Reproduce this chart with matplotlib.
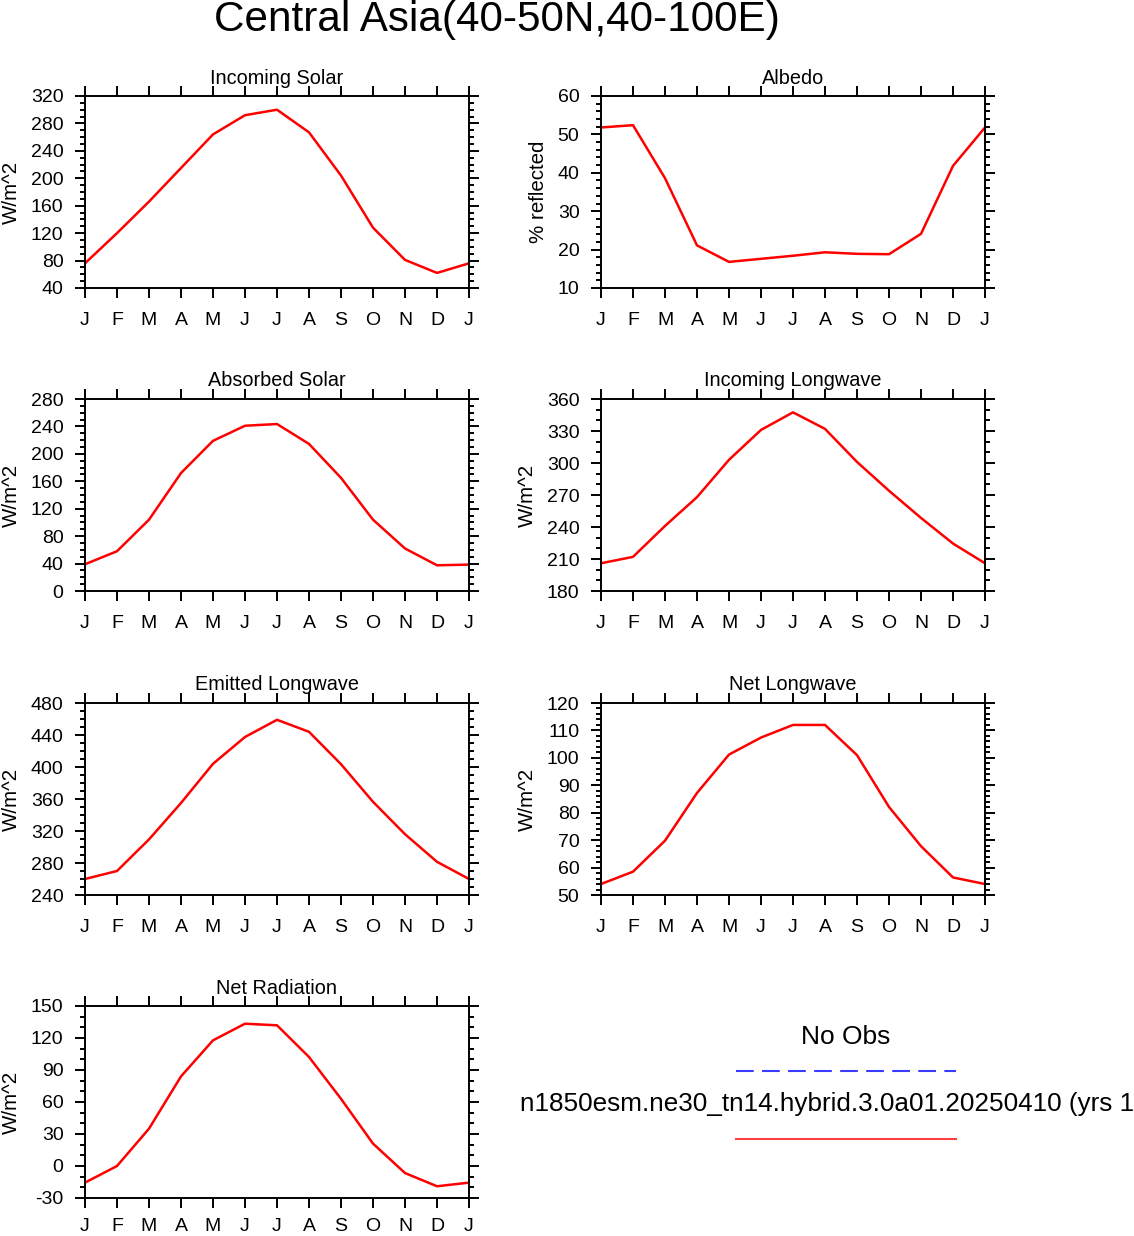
import matplotlib
matplotlib.use("Agg")
import matplotlib.pyplot as plt
from matplotlib.lines import Line2D
from matplotlib.ticker import MultipleLocator

plt.rcParams['font.family'] = ['Liberation Sans', 'DejaVu Sans']
plt.rcParams['axes.unicode_minus'] = False

# Data (monthly climatology, Jan..Dec plus Jan again)
month_labels = ["J", "F", "M", "A", "M", "J", "J", "A", "S", "O", "N", "D", "J"]
months = list(range(13))

incoming_solar = [76, 120, 166, 215, 264, 292, 300, 267, 204, 128, 81, 62, 76]
albedo = [51.8, 52.4, 38.6, 21.1, 16.8, 17.6, 18.4, 19.3, 18.9, 18.8, 24.1, 41.8, 51.8]
absorbed_solar = [39, 58, 104, 172, 219, 241, 243.5, 214.5, 165, 104, 62, 37.5, 38.5]
incoming_lw = [206, 212, 241, 268, 303, 331, 347.5, 332, 301, 274, 248.5, 224.5, 206]
emitted_lw = [260, 270, 309.5, 355, 404, 437.5, 459, 444, 403.5, 356.5, 316, 281.5, 260]
net_lw = [54, 58.5, 69.8, 87.2, 101.2, 107.4, 112, 112, 101, 82.1, 67.8, 56.4, 54]
net_rad = [-15.6, 0, 35, 84, 117.8, 133.4, 131.9, 102.2, 63, 21, -6.6, -19, -15.6]

titles = ["Incoming Solar", "Albedo", "Absorbed Solar", "Incoming Longwave",
          "Emitted Longwave", "Net Longwave", "Net Radiation"]
ylabels = ["W/m^2", "% reflected", "W/m^2", "W/m^2", "W/m^2", "W/m^2", "W/m^2"]
series = [incoming_solar, albedo, absorbed_solar, incoming_lw, emitted_lw, net_lw, net_rad]
ylims = [(40, 320), (10, 60), (0, 280), (180, 360), (240, 480), (50, 120), (-30, 150)]
major_steps = [40, 10, 40, 30, 40, 10, 30]
minor_steps = [10, 2, 10, 10, 10, 2, 10]

case_name = "n1850esm.ne30_tn14.hybrid.3.0a01.20250410 (yrs 1"

W, H = 1134, 1236
fig = plt.figure(figsize=(W / 100, H / 100), dpi=100)

# panel placement in pixels: (left, top)
col_left = [85, 601]
row_top = [96, 399, 703, 1006]
pw, ph = 384, 192

for i, (title, ylab, vals, yl, maj, mnr) in enumerate(
        zip(titles, ylabels, series, ylims, major_steps, minor_steps)):
    r, c = divmod(i, 2)
    left = col_left[c] / W
    bottom = 1 - (row_top[r] + ph) / H
    ax = fig.add_axes([left, bottom, pw / W, ph / H])
    ax.plot(months, vals, color="red", lw=1.8)
    ax.set_xlim(0, 12)
    ax.set_ylim(*yl)
    ax.set_xticks(months)
    ax.set_xticklabels(month_labels)
    ax.yaxis.set_major_locator(MultipleLocator(maj))
    ax.yaxis.set_minor_locator(MultipleLocator(mnr))
    ax.tick_params(which="both", direction="out", top=True, right=True,
                   width=1.4, labelsize=14)
    ax.tick_params(which="major", length=7.5)
    ax.tick_params(which="minor", length=3.5)
    # last row sits right at the bottom edge, keep its labels inside
    ax.tick_params(axis="x", pad=7 if r == 3 else 9.5)
    ax.tick_params(axis="y", pad=8)
    for sp in ax.spines.values():
        sp.set_linewidth(1.4)
    ax.set_title(title, fontsize=14.3, pad=9)
    ax.set_ylabel(ylab, fontsize=14.8, labelpad=7)

fig.text(497 / W, 1 - 20 / H, "Central Asia(40-50N,40-100E)",
         fontsize=30.4, ha="center", va="center")

# legend block
fig.text(846 / W, 1 - 1037 / H, "No Obs", fontsize=19, ha="center", va="center")
fig.add_artist(Line2D([736 / W, 956 / W], [1 - 1071 / H, 1 - 1071 / H],
                      transform=fig.transFigure, color="#3b3bff", lw=1.5,
                      linestyle=(0, (8.5, 4))))
fig.text(520 / W, 1 - 1104 / H, case_name, fontsize=18.8, ha="left", va="center")
fig.add_artist(Line2D([736 / W, 956 / W], [1 - 1139 / H, 1 - 1139 / H],
                      transform=fig.transFigure, color="#ff4040", lw=1.5))

fig.savefig("out.png", dpi=100)
